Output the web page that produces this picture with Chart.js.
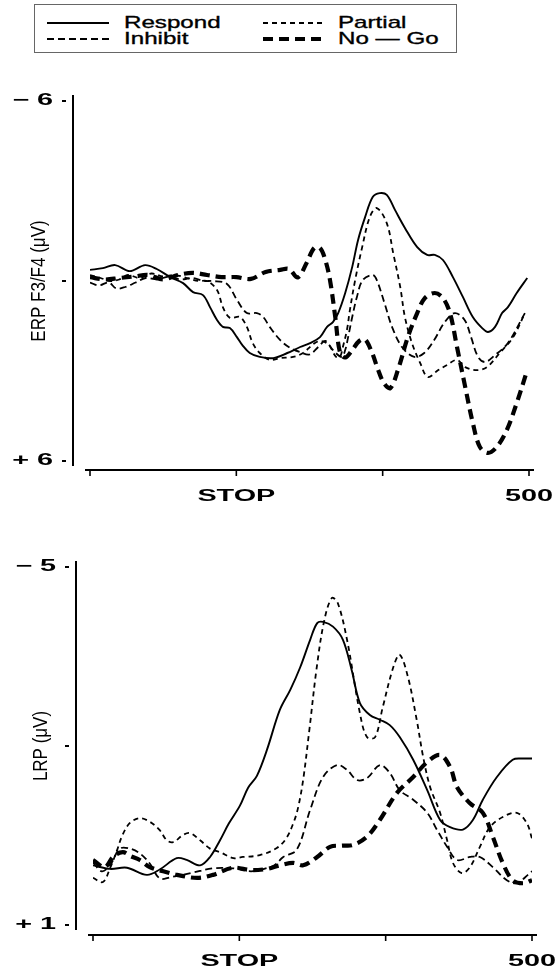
<!DOCTYPE html>
<html>
<head>
<meta charset="utf-8">
<script src="https://cdn.jsdelivr.net/npm/chart.js@4"></script>
<style>
  html, body { margin: 0; padding: 0; background: #fff; }
  body { width: 557px; height: 970px; position: relative; overflow: hidden; }
  canvas { position: absolute; left: 0; }
  #legend { position: absolute; left: 34px; top: 4px; width: 423px; height: 49px;
            border: 1px solid #666; box-sizing: border-box; }
  #legend svg { position: absolute; left: 0; top: 0; }
  .lg-text { position: absolute; font: 17px "Liberation Sans", Arial, sans-serif; -webkit-text-stroke: 0.35px #000;
             color: #000; transform-origin: left center; transform: scaleX(1.42); white-space: nowrap; line-height: 16px; }
</style>
</head>
<body>
<div id="legend"></div>
<canvas id="erpChart" width="557" height="520" style="top:0"></canvas>
<canvas id="lrpChart" width="557" height="450" style="top:520px"></canvas>
<script>
// series names and axis ticks
const seriesNames = ['Respond', 'Inhibit', 'Partial', 'No \u2014 Go']
const xTickValues = [-250, 0, 250, 500]
const xTickLabels = ['', 'STOP', '', '500']
const erpTicks = [-6, 0, 6]
const erpTickLabels = ['\u2212 6', '', '+ 6']
const lrpTicks = [-5, -2, 1]
const lrpTickLabels = ['\u2212 5', '', '+ 1']

// ERP F3/F4 (uV), time in ms relative to STOP
const erpRespondT = [-250,-228,-207,-182,-156,-136,-113,-91,-74,-57,-45,-33,-23,-11,1,10,23,40,63,87,109,126,143,155,165,174,186,198,208,220,233,245,257,271,288,309,326,339,353,370,387,404,420,430,442,454,464,479,497]
const erpRespondV = [-0.37,-0.43,-0.53,-0.33,-0.53,-0.40,-0.13,0.07,0.37,0.47,0.87,1.30,1.53,1.57,1.87,2.13,2.40,2.53,2.57,2.40,2.20,2.07,1.87,1.53,1.37,1.07,0.40,-0.47,-1.37,-2.13,-2.80,-2.93,-2.87,-2.37,-1.77,-1.13,-0.87,-0.87,-0.70,-0.13,0.53,1.20,1.57,1.70,1.53,1.07,0.87,0.40,-0.10]
const erpInhibitT = [-250,-235,-218,-205,-190,-172,-155,-135,-115,-95,-75,-55,-40,-16,1,18,35,46,57,75,92,109,125,140,152,165,180,186,191,198,206,216,233,240,253,266,283,304,321,338,355,373,390,401,413,425,442,464,493]
const erpInhibitV = [0.05,0.15,0.05,0.25,0.2,0.05,-0.1,-0.05,-0.15,-0.05,-0.1,0.0,0.0,0.1,0.63,1.07,1.07,1.2,1.53,1.97,2.23,2.37,2.45,2.2,2.0,2.3,2.53,2.3,1.87,1.2,0.53,-0.03,-0.2,-0.03,0.73,1.53,2.2,2.53,2.4,1.97,1.4,1.07,1.3,1.87,2.53,2.7,2.47,2.07,1.07]
const erpPartialT = [-250,-232,-215,-200,-185,-165,-145,-125,-105,-85,-65,-50,-33,-23,-11,6,18,28,40,57,75,97,114,133,145,158,170,177,182,189,194,203,215,228,240,257,268,280,288,300,314,327,345,360,377,391,411,428,450,473,493]
const erpPartialV = [-0.2,-0.1,0.0,-0.05,-0.2,-0.1,-0.25,-0.15,-0.2,-0.1,0.0,0.0,0.3,0.87,1.23,1.2,1.53,2.07,2.4,2.63,2.57,2.53,2.4,2.08,2.0,2.13,2.52,2.53,2.2,1.63,0.97,-0.03,-1.13,-2.13,-2.43,-1.93,-0.93,0.2,1.2,2.07,2.73,3.2,2.97,2.8,2.63,2.87,2.97,2.87,2.4,1.87,1.07]
const erpNoGoT = [-250,-225,-200,-175,-150,-125,-100,-75,-50,-25,0,25,50,75,90,105,120,133,143,152,160,169,177,186,198,210,220,232,242,252,263,276,293,309,322,339,353,365,377,391,404,416,430,445,462,479,497]
const erpNoGoV = [-0.13,-0.05,-0.1,-0.15,-0.2,-0.05,-0.2,-0.27,-0.2,-0.13,-0.13,-0.07,-0.3,-0.37,-0.4,-0.12,-0.6,-1.1,-1.1,-0.7,-0.03,1.2,2.37,2.55,2.3,2.0,1.95,2.4,2.95,3.4,3.57,2.97,1.87,1.07,0.57,0.4,0.57,1.07,2.2,3.53,4.73,5.53,5.73,5.53,4.97,4.07,2.97]

// LRP (uV)
const lrpRespondT = [-250,-221,-192,-158,-136,-107,-90,-67,-50,-33,-18,1,15,30,47,69,87,104,121,133,143,160,177,192,206,223,240,257,274,297,321,343,360,382,399,416,440,467,485,500]
const lrpRespondV = [0.0,0.06,0.04,0.16,0.07,-0.12,-0.09,0.0,-0.14,-0.42,-0.7,-1.0,-1.3,-1.5,-1.93,-2.6,-2.94,-3.32,-3.78,-4.06,-4.08,-4.0,-3.78,-3.27,-2.72,-2.52,-2.44,-2.35,-2.15,-1.77,-1.26,-0.76,-0.64,-0.6,-0.76,-1.1,-1.48,-1.77,-1.79,-1.79]
const lrpInhibitT = [-250,-235,-221,-204,-187,-170,-153,-136,-118,-79,-45,-11,20,45,60,75,98,121,143,167,184,201,218,240,257,274,297,321,338,355,372,394,411,433,457,474,493,500]
const lrpInhibitV = [-0.05,0.1,0.0,-0.28,-0.28,-0.2,-0.03,0.22,0.2,0.12,0.05,0.05,0.1,0.05,0.0,-0.14,-0.26,-0.93,-1.48,-1.68,-1.6,-1.43,-1.46,-1.68,-1.55,-1.26,-1.1,-0.88,-0.59,-0.31,-0.09,-0.14,-0.14,0.03,0.25,0.3,0.16,0.1]
const lrpPartialT = [-250,-233,-221,-209,-200,-187,-170,-153,-136,-124,-113,-96,-84,-67,-50,-33,-10,6,35,64,80,92,100,109,120,132,145,158,168,184,206,218,232,245,263,274,288,303,314,326,343,355,365,380,394,411,428,450,474,491,500]
const lrpPartialV = [0.21,0.28,0.05,-0.25,-0.5,-0.71,-0.79,-0.73,-0.59,-0.42,-0.39,-0.51,-0.54,-0.42,-0.28,-0.22,-0.12,-0.14,-0.17,-0.29,-0.45,-0.7,-0.95,-1.43,-2.3,-3.3,-4.1,-4.48,-4.4,-3.78,-2.55,-2.15,-2.15,-2.65,-3.32,-3.53,-3.16,-2.44,-1.82,-1.31,-0.88,-0.42,-0.04,0.13,0.03,-0.31,-0.64,-0.81,-0.88,-0.71,-0.45]
const lrpNoGoT = [-250,-230,-215,-199,-185,-170,-153,-130,-107,-72,-45,-11,20,47,69,92,109,133,155,175,194,218,240,269,297,321,343,360,372,394,416,433,450,467,485,500]
const lrpNoGoV = [-0.09,0.03,-0.15,-0.22,-0.15,-0.09,0.03,0.1,0.16,0.21,0.16,0.04,0.08,0.06,0.0,-0.04,0.0,-0.14,-0.31,-0.33,-0.34,-0.48,-0.76,-1.21,-1.48,-1.73,-1.85,-1.65,-1.31,-1.04,-0.88,-0.48,-0.04,0.25,0.3,0.25]

const toPoints = (t, v) => t.map((x, i) => ({x: x, y: v[i]}))

// line look per series: Respond, Inhibit, Partial, No-Go
const looks = [
    {borderWidth: 1.9, borderDash: []},
    {borderWidth: 1.8, borderDash: [7, 4]},
    {borderWidth: 1.8, borderDash: [5, 4]},
    {borderWidth: 4.2, borderDash: [10, 6]}
]

function makeDatasets(series) {
    return series.map((s, i) => ({
        label: seriesNames[i],
        data: toPoints(s[0], s[1]),
        borderColor: '#000',
        backgroundColor: 'transparent',
        borderWidth: looks[i].borderWidth,
        borderDash: looks[i].borderDash,
        pointRadius: 0,
        tension: 0.35,
        fill: false
    }))
}

function drawWide(ctx, text, x, y, align, stretch) {
    ctx.save()
    ctx.translate(x, y)
    ctx.scale(stretch, 1)
    ctx.textAlign = align
    ctx.textBaseline = 'middle'
    ctx.fillText(text, 0, 0)
    ctx.restore()
}

// old-style detached axes, placed from the chart's own scales
const paperAxes = {
    id: 'paperAxes',
    afterDraw(chart, args, opts) {
        const ctx = chart.ctx
        const a = chart.chartArea
        const xs = chart.scales.x
        const ys = chart.scales.y
        ctx.save()
        ctx.strokeStyle = '#000'
        ctx.fillStyle = '#000'
        ctx.font = 'bold 16px "Liberation Sans", Arial, sans-serif'

        const ax = a.left - 17
        const yTop = ys.getPixelForValue(opts.yTicks[0])
        const yBot = ys.getPixelForValue(opts.yTicks[opts.yTicks.length - 1])
        ctx.lineWidth = 2
        ctx.beginPath()
        ctx.moveTo(ax, yTop - 6)
        ctx.lineTo(ax, yBot + 5)
        ctx.stroke()
        opts.yTicks.forEach((v, i) => {
            const py = ys.getPixelForValue(v)
            ctx.fillRect(ax - 11, py - 1, 4, 2)
            if (opts.yLabels[i]) drawWide(ctx, opts.yLabels[i], ax - 20, py, 'right', 1.8)
        })

        const ay = a.bottom + opts.xGap
        ctx.beginPath()
        ctx.moveTo(a.left - 5, ay)
        ctx.lineTo(a.right + 5, ay)
        ctx.stroke()
        ctx.lineWidth = 1.6
        xTickValues.forEach((v, i) => {
            const px = xs.getPixelForValue(v)
            ctx.beginPath()
            ctx.moveTo(px, ay)
            ctx.lineTo(px, ay + 6)
            ctx.stroke()
            if (xTickLabels[i]) drawWide(ctx, xTickLabels[i], px, ay + 27, 'center', 1.8)
        })

        ctx.font = '20px "Liberation Sans", Arial, sans-serif'
        ctx.translate(opts.titleX, (a.top + a.bottom) / 2)
        ctx.rotate(-Math.PI / 2)
        ctx.scale(0.85, 1)
        ctx.textAlign = 'center'
        ctx.textBaseline = 'middle'
        ctx.fillText(opts.title, 0, 0)
        ctx.restore()
    }
}

function makeChart(id, series, yMin, yMax, padding, axesOpts) {
    return new Chart(document.getElementById(id), {
        type: 'line',
        data: {datasets: makeDatasets(series)},
        options: {
            responsive: false,
            animation: false,
            devicePixelRatio: 1,
            layout: {padding: padding},
            scales: {
                x: {type: 'linear', min: -250, max: 500, display: false},
                y: {min: yMin, max: yMax, reverse: true, display: false}
            },
            plugins: {
                legend: {display: false},
                tooltip: {enabled: false},
                paperAxes: axesOpts
            }
        },
        plugins: [paperAxes]
    })
}

makeChart('erpChart',
    [[erpRespondT, erpRespondV], [erpInhibitT, erpInhibitV], [erpPartialT, erpPartialV], [erpNoGoT, erpNoGoV]],
    -6, 6, {left: 90, right: 28, top: 101, bottom: 59},
    {yTicks: erpTicks, yLabels: erpTickLabels, xGap: 9, titleX: 39, title: 'ERP F3/F4 (\u03bcV)'})

makeChart('lrpChart',
    [[lrpRespondT, lrpRespondV], [lrpInhibitT, lrpInhibitV], [lrpPartialT, lrpPartialV], [lrpNoGoT, lrpNoGoV]],
    -5, 1, {left: 93, right: 25, top: 47, bottom: 45},
    {yTicks: lrpTicks, yLabels: lrpTickLabels, xGap: 10, titleX: 41, title: 'LRP (\u03bcV)'})

// legend box
const legend = document.getElementById('legend')
const legendSpots = [[12, 89, 18], [12, 89, 34], [228, 303, 18], [228, 303, 34]]
let svg = '<svg width="423" height="49">'
seriesNames.forEach((name, i) => {
    const [x0, tx, y] = legendSpots[i]
    const dash = looks[i].borderDash.length ? ' stroke-dasharray="' + looks[i].borderDash.join(',') + '"' : ''
    svg += '<line x1="' + x0 + '" y1="' + y + '" x2="' + (x0 + 62) + '" y2="' + y + '" stroke="#000" stroke-width="' + (i === 3 ? 4 : 1.8) + '"' + dash + '/>'
})
svg += '</svg>'
legend.innerHTML = svg
seriesNames.forEach((name, i) => {
    const [x0, tx, y] = legendSpots[i]
    const span = document.createElement('span')
    span.className = 'lg-text'
    span.textContent = name
    span.style.left = tx + 'px'
    span.style.top = (y - 8) + 'px'
    legend.appendChild(span)
})
</script>
</body>
</html>
